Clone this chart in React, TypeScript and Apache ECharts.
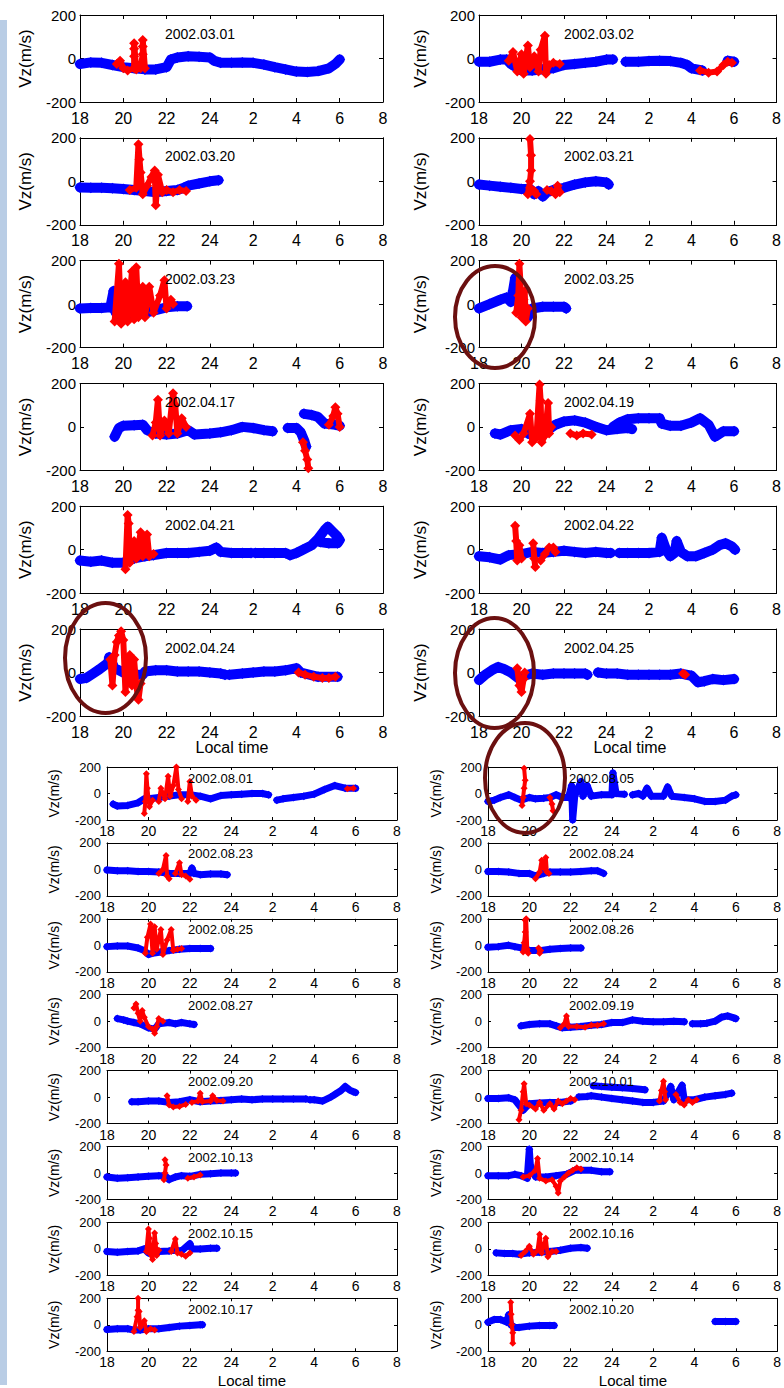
import React, { useEffect, useRef } from "react";
import * as echarts from "echarts";

type P = [number, number] | null;

// ---- axis ticks ----
const xTicks = [18, 20, 22, 24, 26, 28, 30, 32];
const xTickLabels = ["18", "20", "22", "24", "2", "4", "6", "8"];
const yTicks = [-200, 0, 200];

// ---- top block dates (row-major, 2 columns) ----
const topDates = ["2002.03.01", "2002.03.02", "2002.03.20", "2002.03.21", "2002.03.23", "2002.03.25",
  "2002.04.17", "2002.04.19", "2002.04.21", "2002.04.22", "2002.04.24", "2002.04.25"];
// ---- bottom block dates (row-major, 2 columns) ----
const bottomDates = ["2002.08.01", "2002.08.05", "2002.08.23", "2002.08.24", "2002.08.25", "2002.08.26",
  "2002.08.27", "2002.09.19", "2002.09.20", "2002.10.01", "2002.10.13", "2002.10.14",
  "2002.10.15", "2002.10.16", "2002.10.17", "2002.10.20"];

// ---- data: [local time in hours (after midnight = 24 + h), Vz m/s]; null = gap ----
const b0301: P[] = [[18,-25],[18.5,-18],[19,-20],[19.5,-30],[20,-40],[20.5,-45],[21,-50],[21.5,-50],[22,-40],[22.2,-5],[22.5,5],[23,10],[23.5,8],[24,5],[24.2,-10],[24.5,-20],[25,-20],[25.5,-18],[26,-20],[26.5,-28],[27,-40],[27.5,-50],[28,-60],[28.5,-62],[29,-58],[29.5,-45],[29.8,-25],[30,-5]];
const r0301: P[] = [[19.7,-25],[19.85,-10],[20,-45],[20.2,-55],[20.5,-45],[20.5,10],[20.5,45],[20.5,70],[20.6,-50],[20.8,-45],[20.9,20],[20.9,55],[20.9,85],[21,-45]];
const b0302: P[] = [[18,-15],[18.5,-15],[19,-5],[19.3,-5],[19.5,-25],[20,-55],[20.5,-55],[21,-50],[21.5,-45],[22,-30],[22.5,-25],[23,-20],[23.5,-15],[24,-5],[24.3,-5],null,[24.9,-15],[25.5,-15],[26,-12],[26.5,-10],[27,-12],[27.5,-20],[27.8,-30],[28,-45],[28.5,-55],null,[29.7,-10],[30,-15]];
const r0302: P[] = [[19.4,-10],[19.6,30],[19.8,-60],[20,20],[20.1,-70],[20.3,60],[20.4,-40],[20.6,10],[20.8,-60],[20.9,40],[21.1,105],[21.15,-70],[21.3,-30],[21.5,-20],[21.8,-25],null,[28.4,-55],[28.8,-65],[29.2,-60],[29.5,-30],[29.7,-15],[29.9,-20]];
const b0320: P[] = [[18,-28],[18.5,-30],[19,-30],[19.5,-32],[20,-35],[20.5,-40],[21,-45],[21.5,-50],[22,-45],[22.5,-40],[22.8,-30],[23,-20],[23.5,-10],[24,0],[24.4,5]];
const r0320: P[] = [[20.3,-40],[20.6,-30],[20.7,170],[20.75,100],[20.8,40],[20.9,-60],[21.1,-20],[21.3,20],[21.45,50],[21.5,-110],[21.6,30],[21.8,-50],[22,-40],[22.3,-50],[22.6,-40],[22.9,-45]];
const b0321: P[] = [[18,-15],[18.5,-20],[19,-25],[19.5,-30],[20,-35],[20.4,-35],[20.6,-60],[20.8,-45],[21,-70],[21.2,-50],[21.5,-40],[22,-30],[22.5,-15],[23,-5],[23.5,0],[24,-5],[24.1,-15]];
const r0321: P[] = [[20.3,-60],[20.4,0],[20.45,50],[20.45,120],[20.4,195],null,[20.4,-30],[20.6,-45],[20.7,-60],null,[21.2,-40],[21.4,-45],[21.6,-60],[21.7,-20],[21.8,-50]];
const b0323: P[] = [[18,-20],[18.5,-18],[19,-18],[19.4,-15],[19.55,60],[19.65,-40],[20,-60],[21,-40],[22,-15],[22.5,-10],[22.95,-10]];
const r0323: P[] = [[19.6,-80],[19.8,185],[19.9,-90],[20.1,100],[20.2,-80],[20.4,150],[20.5,-70],[20.6,170],[20.7,-60],[20.9,80],[21,-60],[21.2,80],[21.4,-40],[21.7,40],[21.9,110],[22,-20],[22.2,20],[22.3,0]];
const b0325: P[] = [[18,-20],[18.5,0],[19,20],[19.3,30],[19.5,10],[19.6,60],[19.7,120],[19.8,40],[20,-20],[20.3,-60],[20.5,-20],[21,-12],[21.5,-12],[22,-12],[22.1,-20]];
const r0325: P[] = [[19.75,-40],[19.85,40],[19.9,185],[19.95,100],[20,-60],[20.1,20],[20.15,60],[20.2,-80],[20.3,-20]];
const b0417: P[] = [[19.6,-45],[19.8,-5],[20,5],[20.5,8],[20.9,10],[21.1,-15],[21.5,-30],[22,-35],[22.5,-30],[23,-15],[23.3,-35],[24,-30],[24.5,-25],[25,-15],[25.5,0],[26,-5],[26.5,-15],[26.9,-20],null,[27.6,-5],[28,-5],[28.2,-25],[28.35,-60],[28.45,-90],null,[28.35,60],[28.7,55],[29,45],[29.3,15],[29.8,10],[30,5]];
const r0417: P[] = [[21.35,-40],[21.5,20],[21.6,125],[21.7,-40],[21.9,30],[22.1,-30],[22.3,155],[22.4,100],[22.5,-30],[22.7,40],[22.9,0],null,[28.3,-70],[28.4,-110],[28.5,-150],[28.55,-190],null,[29.5,10],[29.7,50],[29.8,90],[29.9,60],[30,0]];
const b0419: P[] = [[18.75,-30],[19,-35],[19.5,-15],[20,-10],[20.3,-30],[20.6,-40],[21,-35],[21.3,-10],[21.6,10],[22,25],[22.5,30],[23,20],[23.5,0],[24,-15],[24.5,-10],[25,-5],[25.2,-10],null,[24.3,0],[24.6,20],[25,35],[25.5,40],[26,40],[26.5,40],[26.6,15],[27,5],[27.5,5],[28,20],[28.4,40],[28.8,10],[29.1,-45],[29.5,-20],[30,-20]];
const r0419: P[] = [[19.7,-40],[19.9,-60],[20.1,-30],[20.4,60],[20.5,-70],[20.7,-50],[20.85,195],[20.9,120],[20.95,-70],[21.1,-40],[21.25,110],[21.3,-30],[21.4,0],null,[22.3,-30],[22.6,-40],[22.9,-30],[23.3,-35]];
const b0421: P[] = [[18,-50],[18.5,-55],[19,-50],[19.5,-60],[20,-60],[20.5,-40],[21,-30],[21.4,-25],[22,-15],[22.5,-15],[23,-15],[23.5,-10],[24,-5],[24.3,10],[24.5,-10],[25,-15],[25.5,-15],[25.9,-15],null,[26.1,-15],[26.5,-15],[27,-15],[27.5,-15],[27.7,-25],[28,-15],[28.3,0],[28.7,20],[29,50],[29.3,90],[29.45,105],[29.7,80],[29.9,60],[30,45],[29.9,30],[29.5,30],[29.1,35]];
const r0421: P[] = [[20.1,-90],[20.2,160],[20.25,120],[20.3,-60],[20.5,40],[20.6,-40],[20.8,80],[20.9,-30],[21.1,70],[21.2,-30],[21.4,-20]];
const b0422: P[] = [[18,-30],[18.5,-35],[19,-45],[19.4,-25],[20,-20],[20.5,-10],[21,-15],[21.5,-10],[22,-5],[22.5,-10],[23,-15],[23.5,-10],[24,-15],[24.2,-15],null,[24.6,-15],[25,-15],[25.5,-15],[26,-15],[26.5,-10],[26.6,55],[26.8,0],[27,-30],[27.2,-15],[27.3,40],[27.5,-10],[27.8,-30],[28.2,-30],[28.6,-15],[29,0],[29.3,20],[29.6,30],[29.9,15],[30.05,0]];
const r0422: P[] = [[19.7,110],[19.75,40],[19.8,-50],[19.9,20],[20,-40],null,[20.55,30],[20.6,-40],[20.65,-80],null,[20.9,-50],[21.1,-20],[21.3,10],[21.5,10],[21.6,-10]];
const b0424: P[] = [[18,-30],[18.3,-25],[18.6,-5],[18.9,15],[19.1,30],[19.3,45],[19.35,70],[19.6,20],[20,0],[20.5,-10],[20.9,-10],[21,5],[21.5,10],[22,10],[22.5,5],[23,5],[23.5,5],[24,0],[24.5,-5],[24.7,-10],null,[24.9,-10],[25.5,-5],[26,0],[26.5,5],[27,5],[27.5,10],[28,20],[28.2,0],[29,-20],[29.9,-20]];
const r0424: P[] = [[19.4,60],[19.5,-60],[19.6,80],[19.7,140],[19.8,170],[19.9,190],[20,150],[20.1,-90],[20.2,30],[20.3,80],[20.4,-60],[20.5,60],[20.6,-60],[20.7,-125],[20.8,-50],null,[28.1,0],[28.4,-10],[28.8,-20],[29.2,-25],[29.5,-25],[29.8,-20]];
const b0425: P[] = [[18,-35],[18.3,-10],[18.6,10],[18.9,25],[19.2,15],[19.5,0],[19.7,-15],[19.9,-30],[20.1,-15],[20.5,-5],[21,-10],[21.5,-5],[22,-5],[22.5,-5],[23,-5],[23.1,-10],null,[23.6,0],[24,-5],[24.5,-5],[25,-10],[25.5,-10],[26,-10],[26.5,-10],[27,-10],[27.5,-5],[28,-15],[28.3,-45],[28.6,-40],[29,-30],[29.5,-35],[30,-30]];
const r0425: P[] = [[19.8,20],[19.9,-60],[20,-90],[20.1,-30],[20.15,0],null,[27.6,-5],[27.7,-10]];

const b0801: P[] = [[18.3,-80],[18.5,-95],[19,-90],[19.5,-70],[19.8,-40],[20,-40],[20.5,-30],[21,-20],[21.5,-10],[22,-10],[22.5,-20],[23,-40],[23.5,-15],[24,-10],[24.5,-5],[25,0],[25.5,0],[25.8,-10],null,[26.2,-50],[26.5,-40],[27,-30],[27.5,-20],[28,-5],[28.5,30],[29,60],[29.5,40],[30,40]];
const r0801: P[] = [[19.8,-150],[19.85,-60],[19.9,150],[19.95,40],[20.05,-100],[20.2,-50],null,[20.5,-60],[20.6,40],[20.8,-40],[20.95,130],[21.05,-20],[21.2,60],[21.35,200],[21.45,30],[21.6,-40],null,[21.9,-60],[22,90],[22.1,-20],[22.3,-50],null,[29.6,35],[29.9,40]];
const b0805: P[] = [[18,-60],[18.3,-50],[18.6,-30],[19,-10],[19.3,-30],[19.6,-50],[20,-30],[20.3,-40],[20.7,-35],[21,-30],[21.3,-10],[21.6,-30],[21.9,-30],[22.05,60],[22.1,-200],[22.2,-20],[22.5,90],[22.6,-20],[22.8,60],[23,-20],[23.5,-10],[24,-10],[24.05,155],[24.2,0],[24.6,-5],null,[25,-10],[25.3,0],[25.5,-20],[25.7,40],[25.9,-20],[26.5,-20],[26.7,50],[26.9,-20],[27.5,-30],[28,-40],[28.5,-60],[29,-60],[29.5,-50],[29.8,-20],[30,-10]];
const r0805: P[] = [[19.65,-90],[19.7,-30],[19.75,40],[19.8,100],[19.75,190],null,[21,-30],[21.1,-80],[21.15,-130]];
const b0823: P[] = [[18,-5],[18.5,-10],[19,-10],[19.5,-15],[20,-15],[20.5,-20],[21,-30],[21.5,-30],[22,-30],[22.1,10],[22.2,-30],[22.5,-40],[23,-35],[23.5,-35],[23.8,-40]];
const r0823: P[] = [[20.5,-30],[20.7,0],[20.85,105],[20.9,-50],[21,-70],null,[21.3,-30],[21.5,50],[21.6,-40],[21.8,-50],[22,-75]];
const b0824: P[] = [[18,-15],[18.5,-15],[19,-20],[19.5,-30],[20,-30],[20.3,-50],[20.7,-30],[21,-20],[21.5,-20],[22,-20],[22.5,-15],[23,-10],[23.3,-10],[23.6,-30]];
const r0824: P[] = [[20.3,-70],[20.5,-20],[20.6,70],[20.7,10],[20.8,90],[20.85,-20],[20.95,-30]];
const b0825: P[] = [[18,-10],[18.5,-5],[19,-5],[19.5,-20],[19.8,-40],[20,-70],[20.2,-60],[20.6,-50],[21,-40],[21.5,-30],[22,-25],[22.5,-25],[23,-25]];
const r0825: P[] = [[19.85,-60],[19.95,60],[20.1,160],[20.2,-60],[20.3,140],[20.4,-30],[20.6,120],[20.7,-70],[20.9,40],[21.1,120],[21.2,-40],[21.4,-30],[21.6,-25]];
const b0826: P[] = [[18,-15],[18.5,-10],[19,0],[19.3,-10],[19.6,-20],[20,-40],[20.5,-40],[21,-30],[21.5,-25],[22,-20],[22.5,-20]];
const r0826: P[] = [[19.7,-50],[19.75,20],[19.8,100],[19.8,190],[19.85,200],[19.9,-30],[19.95,-60],null,[20.45,-20],[20.5,-60],[20.55,-40]];
const b0827: P[] = [[18.5,20],[18.8,10],[19,0],[19.3,-10],[19.6,-20],[20,-50],[20.3,-60],[20.5,-20],[21,-10],[21.3,-20],[21.6,-10],[22,-20],[22.2,-25]];
const r0827: P[] = [[19.3,100],[19.4,130],[19.5,60],[19.6,0],[19.7,80],[19.8,30],[20,-40],[20.2,-60],[20.3,-90],[20.4,-40],[20.5,20],[20.7,0]];
const b0919: P[] = [[19.6,-35],[20,-25],[20.5,-20],[21,-20],[21.3,-35],[21.6,-50],[22,-45],[22.5,-40],[23,-30],[23.5,-25],[24,-10],[24.5,-10],[25,10],[25.5,0],[26,-5],[26.5,-5],[27,0],[27.5,-5],null,[27.9,-20],[28.3,-20],[28.6,-15],[29,0],[29.3,30],[29.6,40],[29.9,25],[30,20]];
const r0919: P[] = [[21.5,-50],[21.7,-20],[21.8,40],[21.9,-40],[22.3,-40],[22.7,-45],[23,-30],[23.3,-30],[23.6,-20]];
const b0920: P[] = [[19.2,-35],[19.5,-35],[20,-30],[20.5,-30],[21,-40],[21.5,-35],[22,-20],[22.5,-35],[23,-30],[23.5,-25],[24,-20],[24.5,-15],[25,-20],[25.5,-15],[26,-15],[26.5,-15],[27,-15],[27.6,-15],null,[27.8,-20],[28,-20],[28.4,-30],[28.8,0],[29,20],[29.3,50],[29.5,80],[29.7,55],[29.9,40],[30,35]];
const r0920: P[] = [[20.9,10],[21,-60],[21.2,-75],[21.5,-70],[21.8,-55],null,[22.1,-40],[22.4,-30],[22.5,30],[22.6,-35],[23,-30],[23.1,10],[23.3,-25],[23.6,-30]];
const b1001: P[] = [[18,-10],[18.5,-10],[19,-5],[19.3,-20],[19.5,-60],[19.7,-100],[20,-50],[20.5,-45],[21,-40],[21.5,-40],[22,-30],null,[22.4,0],[22.8,5],[23,10],[23.5,0],[24,-10],[24.5,-20],[25,-30],[25.5,-40],[26,-40],[26.5,-30],[26.85,80],[27,-20],[27.4,90],[27.5,-20],[28,-20],[28.5,0],[29,10],[29.5,20],[29.8,30],null,[23.1,85],[23.5,80],[24,75],[24.5,70],[25,65],[25.6,55]];
const r1001: P[] = [[19.5,-170],[19.6,-100],[19.7,40],[19.75,100],[19.85,-50],[20,-60],[20.3,-90],[20.5,-40],[20.7,-100],[21,-50],[21.2,-90],[21.4,-30],[21.6,-50],[21.8,-30],[22,-10],[22.2,-20],null,[26.3,-30],[26.4,50],[26.5,120],[26.55,40],[26.6,-20],null,[27.1,20],[27.3,-40],[27.5,-60],[27.7,-20],[27.9,-40],[28.1,-20]];
const b1013: P[] = [[18,-30],[18.5,-40],[19,-35],[19.5,-30],[20,-25],[20.5,-20],[20.8,-20],[21,-50],[21.3,-30],[21.6,-20],[22,-25],[22.5,-10],[23,-5],[23.5,0],[24,0],[24.2,0]];
const r1013: P[] = [[20.75,-50],[20.8,0],[20.85,60],[20.8,100],null,[21.9,-40],[22.2,-30],[22.5,-15]];
const b1014: P[] = [[18,-20],[18.5,-20],[19,-20],[19.3,-10],[19.6,-20],[19.9,-40],[20,180],[20.05,60],[20.3,-30],[20.8,-30],[21.3,-20],[21.8,-10],[22.2,20],[22.5,20],[23,20],[23.5,10],[23.9,10]];
const r1014: P[] = [[19.7,-30],[20,-20],[20.3,20],[20.4,110],[20.5,-40],[20.8,-60],[21.1,-50],[21.3,-100],[21.4,-150],[21.5,-60],[21.7,-30],[21.9,0],[22.1,20],[22.3,40],[22.5,30]];
const b1015: P[] = [[18,-20],[18.5,-25],[19,-20],[19.5,-15],[19.8,0],[20,-30],[20.5,-20],[21,-15],[21.3,-10],[21.6,-15],[22,40],[22.1,0],[22.5,0],[23,5],[23.3,5]];
const r1015: P[] = [[19.9,-20],[20,150],[20.05,80],[20.1,-40],[20.2,-80],[20.3,120],[20.35,40],[20.4,-50],[20.5,-10],null,[21.1,-20],[21.3,75],[21.4,-30],[21.6,-40],[21.8,-55],[22,-30]];
const b1016: P[] = [[18.4,-30],[18.8,-35],[19.2,-35],[19.5,-40],[20,-30],[20.5,-25],[21,-20],[21.5,-10],[22,5],[22.5,10],[22.8,5]];
const r1016: P[] = [[19.6,-50],[19.8,-20],[20,20],[20.2,-40],[20.4,-10],[20.5,110],[20.6,-30],[20.8,80],[20.9,-60],[21.1,-20],[21.3,-20]];
const b1017: P[] = [[18,-35],[18.5,-30],[19,-30],[19.3,-40],[19.6,-40],[20,-30],[20.5,-30],[21,-20],[21.5,-10],[22,-5],[22.5,0],[22.6,0]];
const r1017: P[] = [[19.3,-50],[19.45,60],[19.5,110],[19.5,200],null,[19.55,100],[19.6,-20],[19.8,30],[19.9,-50],[20.1,-30],[20.3,-40]];
const b1020: P[] = [[18,20],[18.3,40],[18.6,40],[18.9,20],[19,75],[19.1,0],[19.3,-20],[19.5,-20],[20,-10],[20.5,-5],[21,-5],[21.2,-5],null,[29,25],[29.5,25],[30,25]];
const r1020: P[] = [[19.1,170],[19.12,80],[19.15,0],[19.2,-60],[19.2,-140]];

const topBlue = [b0301, b0302, b0320, b0321, b0323, b0325, b0417, b0419, b0421, b0422, b0424, b0425];
const topRed = [r0301, r0302, r0320, r0321, r0323, r0325, r0417, r0419, r0421, r0422, r0424, r0425];
const bottomBlue = [b0801, b0805, b0823, b0824, b0825, b0826, b0827, b0919, b0920, b1001, b1013, b1014, b1015, b1016, b1017, b1020];
const bottomRed = [r0801, r0805, r0823, r0824, r0825, r0826, r0827, r0919, r0920, r1001, r1013, r1014, r1015, r1016, r1017, r1020];

const FONT = "Liberation Sans, Arial, Helvetica, sans-serif";
const TOP_H = 757;
const BLUE = "#0000ff";
const RED = "#ff0000";
const RING = "#6b1010";

function splitSegs(arr: P[]) {
  const segs: [number, number][][] = [];
  let cur: [number, number][] = [];
  for (const p of arr) {
    if (p === null) { if (cur.length) segs.push(cur); cur = []; }
    else cur.push(p);
  }
  if (cur.length) segs.push(cur);
  return segs;
}

type Style = {
  xFont: number; yFont: number; titleFont: number; vzFont: number; tickLen: number;
  xMargin: number; yMargin: number; titleDx: number; titleDy: number; vzDx: number[];
  blueW: number; blueSym: number; redW: number; redSym: number;
};

type Panel = { date: string; blue: P[]; red: P[]; left: number; top: number; width: number; height: number; col: number };

function buildOption(panels: Panel[], st: Style, extra: any[]) {
  const grid: any[] = [], xAxis: any[] = [], yAxis: any[] = [], series: any[] = [];
  const graphic: any[] = [...extra];
  panels.forEach((p, i) => {
    grid.push({ left: p.left, top: p.top, width: p.width, height: p.height, containLabel: false });
    const axLine = { show: true, onZero: false, lineStyle: { color: "#000", width: 1 } };
    const tick = { show: true, inside: true, length: st.tickLen, lineStyle: { color: "#000", width: 1 } };
    const xBase = { type: "value", gridIndex: i, min: xTicks[0], max: xTicks[xTicks.length - 1], interval: 2,
      axisLine: axLine, axisTick: tick, splitLine: { show: false } };
    const yBase = { type: "value", gridIndex: i, min: yTicks[0], max: yTicks[yTicks.length - 1], interval: 200,
      axisLine: axLine, axisTick: tick, splitLine: { show: false } };
    xAxis.push({ ...xBase, position: "bottom", axisLabel: { show: true, margin: st.xMargin, fontSize: st.xFont,
      fontFamily: FONT, color: "#000", formatter: (v: number) => { const k = xTicks.indexOf(v); return k >= 0 ? xTickLabels[k] : ""; } } });
    xAxis.push({ ...xBase, position: "top", axisLabel: { show: false } });
    yAxis.push({ ...yBase, position: "left", axisLabel: { show: true, margin: st.yMargin, fontSize: st.yFont, fontFamily: FONT, color: "#000" } });
    yAxis.push({ ...yBase, position: "right", axisLabel: { show: false } });
    const common = { type: "line", xAxisIndex: 2 * i, yAxisIndex: 2 * i, symbol: "diamond", showSymbol: true,
      showAllSymbol: true, silent: true, animation: false, clip: true };
    splitSegs(p.blue).forEach((seg) => series.push({ ...common, data: seg, z: 2, symbolSize: st.blueSym,
      lineStyle: { color: BLUE, width: st.blueW, join: "round", cap: "round" }, itemStyle: { color: BLUE } }));
    splitSegs(p.red).forEach((seg) => series.push({ ...common, data: seg, z: 3, symbolSize: st.redSym,
      lineStyle: { color: RED, width: st.redW, join: "round", cap: "round" }, itemStyle: { color: RED } }));
    graphic.push({ type: "text", x: p.left + st.titleDx, y: p.top + st.titleDy, z: 50,
      style: { text: p.date, fontSize: st.titleFont, fontFamily: FONT, fill: "#000", align: "left", verticalAlign: "middle" } });
    graphic.push({ type: "text", x: p.left - st.vzDx[p.col], y: p.top + p.height / 2, rotation: Math.PI / 2, z: 50,
      style: { text: "Vz(m/s)", fontSize: st.vzFont, fontFamily: FONT, fill: "#000", align: "center", verticalAlign: "middle" } });
  });
  return { animation: false, backgroundColor: "#fff", grid, xAxis, yAxis, series, graphic };
}

const ring = (cx: number, cy: number, rx: number, ry: number) => ({
  type: "ellipse", z: 100, shape: { cx, cy, rx, ry }, style: { fill: "none", stroke: RING, lineWidth: 4 },
});

export default function App() {
  const topRef = useRef<HTMLDivElement>(null);
  const botRef = useRef<HTMLDivElement>(null);

  useEffect(() => {
    if (!topRef.current || !botRef.current) return;
    const top = echarts.init(topRef.current, undefined, { renderer: "svg" });
    const bot = echarts.init(botRef.current, undefined, { renderer: "svg" });

    const topPanels: Panel[] = topDates.map((d, i) => {
      const r = Math.floor(i / 2), c = i % 2;
      return { date: d, blue: topBlue[i], red: topRed[i], col: c,
        left: c === 0 ? 80 : 479, width: c === 0 ? 303 : 302, top: 15 + r * 122.8, height: 87 };
    });
    const botPanels: Panel[] = bottomDates.map((d, i) => {
      const r = Math.floor(i / 2), c = i % 2;
      return { date: d, blue: bottomBlue[i], red: bottomRed[i], col: c,
        left: c === 0 ? 107 : 488, width: 290, top: 767 + r * 75.9 - TOP_H, height: 53 };
    });

    const topExtra = [
      { type: "rect", z: 0, shape: { x: 0, y: 20, width: 7, height: TOP_H - 20 }, style: { fill: "#b9cde5" } },
      { type: "text", x: 232, y: 747, z: 50, style: { text: "Local time", fontSize: 16, fontFamily: FONT, fill: "#000", align: "center", verticalAlign: "middle" } },
      { type: "text", x: 630, y: 747, z: 50, style: { text: "Local time", fontSize: 16, fontFamily: FONT, fill: "#000", align: "center", verticalAlign: "middle" } },
      ring(495, 317, 40, 51),
      ring(105.5, 658, 40.5, 55),
      ring(494.5, 673, 39.5, 55),
      ring(525, 778, 40, 55),
    ];
    const botExtra = [
      { type: "rect", z: 0, shape: { x: 0, y: 0, width: 7, height: 628 }, style: { fill: "#b9cde5" } },
      { type: "text", x: 252, y: 1380 - TOP_H, z: 50, style: { text: "Local time", fontSize: 15, fontFamily: FONT, fill: "#000", align: "center", verticalAlign: "middle" } },
      { type: "text", x: 633, y: 1380 - TOP_H, z: 50, style: { text: "Local time", fontSize: 15, fontFamily: FONT, fill: "#000", align: "center", verticalAlign: "middle" } },
      ring(525, 778 - TOP_H, 40, 55),
    ];

    top.setOption(buildOption(topPanels, {
      xFont: 16, yFont: 15, titleFont: 14, vzFont: 17, tickLen: 4, xMargin: 8, yMargin: 4,
      titleDx: 85, titleDy: 18.5, vzDx: [55, 59], blueW: 10, blueSym: 11, redW: 6, redSym: 10,
    }, topExtra));
    bot.setOption(buildOption(botPanels, {
      xFont: 14, yFont: 13, titleFont: 13, vzFont: 14, tickLen: 3, xMargin: 4, yMargin: 6,
      titleDx: 81, titleDy: 11, vzDx: [53, 52], blueW: 7, blueSym: 8, redW: 4, redSym: 7,
    }, botExtra));

    return () => { top.dispose(); bot.dispose(); };
  }, []);

  return (
    <div style={{ position: "absolute", left: 0, top: 0, width: 784, height: 1388, background: "#fff", overflow: "hidden" }}>
      <div ref={topRef} style={{ position: "absolute", left: 0, top: 0, width: 784, height: TOP_H }} />
      <div ref={botRef} style={{ position: "absolute", left: 0, top: TOP_H, width: 784, height: 1388 - TOP_H }} />
    </div>
  );
}
